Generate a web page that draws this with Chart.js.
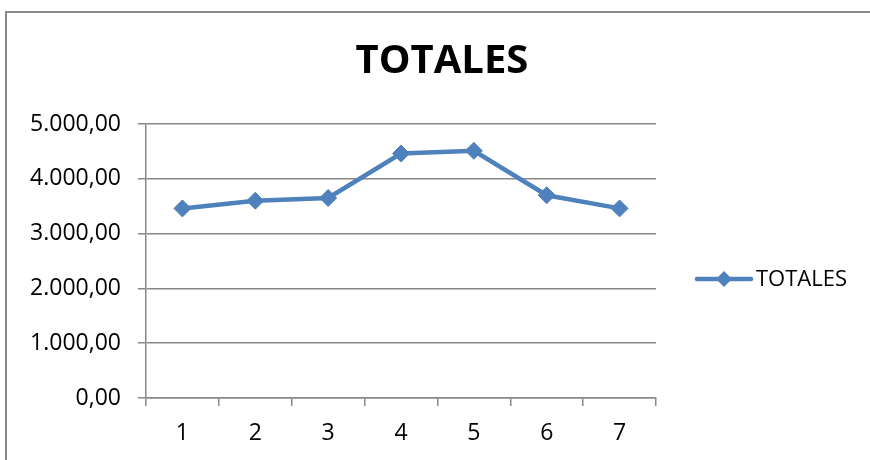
<!DOCTYPE html>
<html>
<head>
<meta charset="utf-8">
<script src="https://cdn.jsdelivr.net/npm/chart.js@4/dist/chart.umd.min.js"></script>
<style>
  html, body { margin: 0; padding: 0; background: #fff; overflow: hidden; }
  #wrap { position: relative; width: 870px; height: 460px; overflow: hidden; }
  #frame { position: absolute; left: 5px; top: 11px; width: 900px; height: 500px; border: 2px solid #8a8a8a; box-sizing: border-box; }
  canvas { position: absolute; left: 0; top: 0; }
</style>
</head>
<body>
<div id="wrap">
  <div id="frame"></div>
  <canvas id="c" width="870" height="460"></canvas>
</div>
<script>
// ---- data ----
const chartTitle = 'TOTALES';
const xLabels = ['1', '2', '3', '4', '5', '6', '7'];
const seriesName = 'TOTALES';
const totales = [3460, 3600, 3650, 4460, 4510, 3700, 3460];
const yMin = 0;
const yMax = 5000;
const yStep = 1000;

const BLUE = '#4F81BD';
const GRID = '#888888';
const TXT = '#000000';
const FONT = "'Open Sans', 'Noto Sans', sans-serif";

function fmtES(v) {
  const neg = v < 0;
  const s = Math.abs(Math.round(v)).toString();
  const grouped = s.replace(/\B(?=(\d{3})+(?!\d))/g, '.');
  return (neg ? '-' : '') + grouped + ',00';
}

const legendPlugin = {
  id: 'excelLegend',
  afterDraw(chart) {
    const ctx = chart.ctx;
    const ca = chart.chartArea;
    const ds = chart.data.datasets[0];
    const x0 = ca.right + 41;
    const x1 = ca.right + 95;
    const y = (ca.top + ca.bottom) / 2 + 18;
    const cx = (x0 + x1) / 2;
    ctx.save();
    ctx.strokeStyle = BLUE;
    ctx.lineWidth = 4.5;
    ctx.lineCap = 'round';
    ctx.beginPath();
    ctx.moveTo(x0, y);
    ctx.lineTo(x1, y);
    ctx.stroke();
    ctx.fillStyle = BLUE;
    ctx.beginPath();
    const r = 8;
    ctx.moveTo(cx, y - r);
    ctx.lineTo(cx + r, y);
    ctx.lineTo(cx, y + r);
    ctx.lineTo(cx - r, y);
    ctx.closePath();
    ctx.fill();
    ctx.fillStyle = TXT;
    ctx.font = '22px ' + FONT;
    ctx.textAlign = 'left';
    ctx.textBaseline = 'middle';
    ctx.fillText(ds.label, x1 + 5, y + 1);
    ctx.restore();
  }
};

new Chart(document.getElementById('c'), {
  type: 'line',
  data: {
    labels: xLabels,
    datasets: [{
      label: seriesName,
      data: totales,
      borderColor: BLUE,
      backgroundColor: BLUE,
      borderWidth: 4.5,
      pointStyle: 'rectRot',
      pointRadius: 8.5,
      pointHoverRadius: 8.5,
      pointBorderWidth: 1,
      pointBackgroundColor: BLUE,
      pointBorderColor: BLUE,
      tension: 0,
      fill: false,
      yAxisID: 'y'
    }]
  },
  plugins: [legendPlugin],
  options: {
    responsive: false,
    animation: false,
    events: [],
    layout: { padding: { left: 14, right: 0, top: 0, bottom: 0 } },
    plugins: {
      legend: { display: false },
      tooltip: { enabled: false },
      title: {
        display: true,
        text: chartTitle,
        color: TXT,
        font: { family: FONT, size: 40, weight: 'bold', lineHeight: 1.2 },
        padding: { top: 38, bottom: 38 }
      }
    },
    scales: {
      x: {
        type: 'category',
        offset: true,
        grid: {
          display: true,
          drawOnChartArea: false,
          drawTicks: true,
          tickLength: 8,
          offset: true,
          color: GRID,
          lineWidth: 1.5
        },
        border: { display: true, color: GRID, width: 1.5 },
        ticks: { color: TXT, font: { family: FONT, size: 23 }, padding: 14, maxRotation: 0 },
        afterFit(scale) { scale.height = 62; }
      },
      y: {
        min: yMin,
        max: yMax,
        position: 'left',
        grid: { color: GRID, lineWidth: 1.5, tickLength: 8, drawTicks: true },
        border: { display: true, color: GRID, width: 1.5 },
        ticks: {
          stepSize: yStep,
          color: TXT,
          font: { family: FONT, size: 23 },
          padding: 17,
          callback: (v) => fmtES(v)
        },
        afterFit(scale) { scale.width = 132; }
      },
      filler: {
        type: 'linear',
        position: 'right',
        min: 0,
        max: 1,
        display: true,
        grid: { display: false, drawTicks: false },
        border: { display: false },
        ticks: { display: false },
        afterFit(scale) { scale.width = 214; }
      }
    }
  }
});
</script>
</body>
</html>
